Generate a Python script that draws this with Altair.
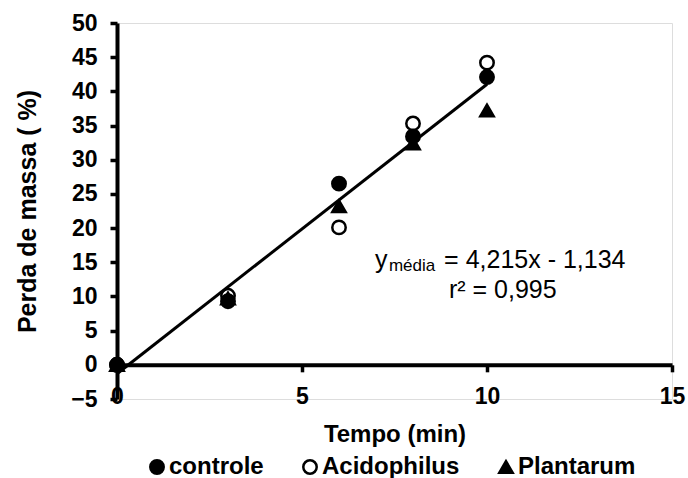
import altair as alt
import pandas as pd

# ---- data ----
tempo = [0, 3, 6, 8, 10]
controle = [0.0, 9.3, 26.5, 33.4, 42.1]
acidophilus = [0.0, 10.1, 20.1, 35.3, 44.2]
plantarum = [0.0, 9.7, 23.2, 32.4, 37.2]

series_names = ["controle", "Acidophilus", "Plantarum"]
series_shapes = ["circle", "circle", "triangle-up"]
series_fills = ["black", "white", "black"]
series_strokes = ["black", "black", "black"]

x_ticks = [0, 5, 10, 15]
y_ticks = [-5, 0, 5, 10, 15, 20, 25, 30, 35, 40, 45, 50]

# annotation (text, position in data units)
ann_text = ["y", "média", "= 4,215x - 1,134", "r² = 0,995"]
ann_x = [6.97, 7.35, 8.84, 8.97]
ann_y = [14.12, 13.68, 14.12, 9.83]
ann_size = [25, 17, 25, 25]

FONT = "Liberation Sans"

# draw order: Acidophilus, Plantarum, controle (controle on top)
rows = []
for name, vals in [("Acidophilus", acidophilus), ("Plantarum", plantarum), ("controle", controle)]:
    for t, v in zip(tempo, vals):
        rows.append({"Tempo": t, "Perda": v, "Serie": name})
df = pd.DataFrame(rows)
df["ordem"] = range(len(df))

ann = pd.DataFrame({"txt": ann_text, "x": ann_x, "y": ann_y, "fs": ann_size})

x_scale = alt.Scale(domain=[0, 15], nice=False, zero=False)
y_scale = alt.Scale(domain=[-5, 50], nice=False, zero=False)

H = 376
x_axis = alt.Axis(
    values=x_ticks, offset=-(5 / 55) * H, grid=False, labelFlush=False,
    tickSize=7, tickWidth=3.5, tickColor="black", domainWidth=4, domainColor="black",
    labelFont=FONT, labelFontSize=23, labelFontWeight="bold", labelColor="black",
    labelPadding=14, labelOverlap=False,
    title="Tempo (min)", titleFont=FONT, titleFontSize=24, titleFontWeight="bold",
    titleColor="black", titlePadding=14,
)
y_axis = alt.Axis(
    values=y_ticks, grid=False, labelFlush=False,
    tickSize=7, tickWidth=3.5, tickColor="black", domainWidth=4, domainColor="black",
    labelFont=FONT, labelFontSize=23, labelFontWeight="bold", labelColor="black",
    labelPadding=13, labelOverlap=False,
    title="Perda de massa ( %)", titleFont=FONT, titleFontSize=25, titleFontWeight="bold",
    titleColor="black", titlePadding=30,
)

leg = alt.Legend(
    title=None, orient="none", legendX=28, legendY=432, direction="horizontal",
    labelFont=FONT, labelFontSize=24, labelFontWeight="bold", labelColor="black",
    symbolSize=180, symbolStrokeWidth=2.5,
    labelOffset=0, columnPadding=34, padding=0,
)

X = alt.X("Tempo:Q", scale=x_scale, axis=x_axis)
Y = alt.Y("Perda:Q", scale=y_scale, axis=y_axis)

points = alt.Chart(df).mark_point(
    filled=True, strokeWidth=2.5, size=180, opacity=1
).encode(
    x=X,
    y=Y,
    shape=alt.Shape("Serie:N", scale=alt.Scale(domain=series_names, range=series_shapes), legend=leg),
    fill=alt.Fill("Serie:N", scale=alt.Scale(domain=series_names, range=series_fills), legend=leg),
    stroke=alt.Stroke("Serie:N", scale=alt.Scale(domain=series_names, range=series_strokes), legend=leg),
    order=alt.Order("ordem:Q"),
)

trend = alt.Chart(df).transform_regression(
    "Tempo", "Perda", method="linear", extent=[0, 10]
).mark_line(color="black", strokeWidth=3).encode(x=X, y=Y)

texts = alt.Chart(ann).mark_text(
    align="left", baseline="alphabetic", font=FONT, color="black"
).encode(
    x=alt.X("x:Q", scale=x_scale, axis=x_axis),
    y=alt.Y("y:Q", scale=y_scale, axis=y_axis),
    text="txt:N",
    size=alt.Size("fs:Q", scale=None, legend=None),
)

chart = alt.layer(points, trend, texts).properties(
    width=555, height=H,
    autosize=alt.AutoSizeParams(type="none"),
    padding={"left": 117, "top": 23, "right": 16, "bottom": 79},
).configure_view(stroke=None).configure(background="white")

chart.save("out.html", embed_options={"renderer": "svg", "actions": False})
